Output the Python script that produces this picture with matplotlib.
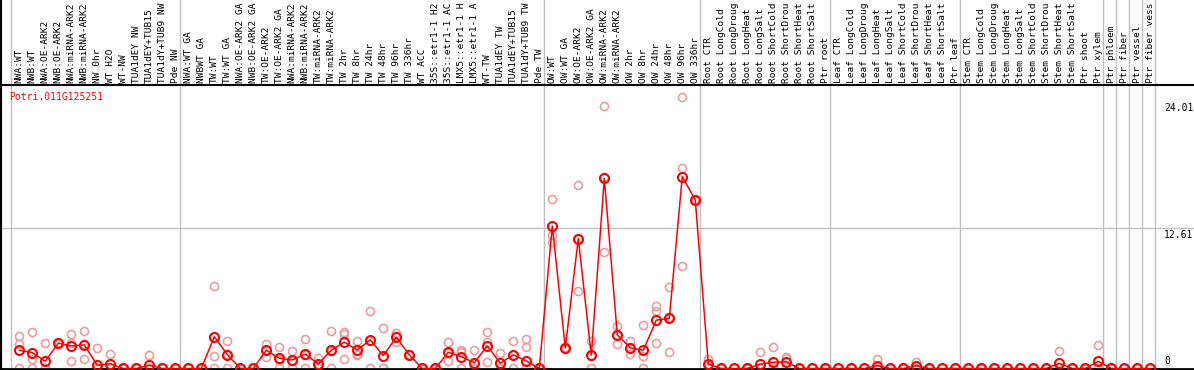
import numpy as np
import matplotlib
matplotlib.use("Agg")
import matplotlib.pyplot as plt
from matplotlib.lines import Line2D
from matplotlib.transforms import blended_transform_factory

# sample labels, grouped as in the browser view (long ones cut as the view shows them)
nw_labels = ["NWA:WT", "NWB:WT", "NWA:OE-ARK2", "NWB:OE-ARK2", "NWA:miRNA-ARK2",
             "NWB:miRNA-ARK2", "NW 0hr", "WT H2O", "WT-NW", "TUA1dEY NW",
             "TUA1dEY+TUB15", "TUA1dY+TUB9 NW", "Pde NW"]
tw_labels = ["NWA:WT GA", "NWBWT GA", "TW:WT", "TW:WT GA", "NWA:OE-ARK2 GA",
             "NWB:OE-ARK2 GA", "TW:OE-ARK2", "TW:OE-ARK2 GA", "NWA:miRNA-ARK2",
             "NWB:miRNA-ARK2", "TW:miRNA-ARK2", "TW:miRNA-ARK2", "TW 2hr", "TW 8hr",
             "TW 24hr", "TW 48hr", "TW 96hr", "TW 336hr", "WT ACC",
             "35S::etr1-1 H2", "35S::etr1-1 AC", "LMX5::etr1-1 H",
             "LMX5::etr1-1 A", "WT-TW", "TUA1dEY TW", "TUA1dEY+TUB15",
             "TUA1dY+TUB9 TW", "Pde TW"]
ow_labels = ["OW:WT", "OW:WT GA", "OW:OE-ARK2", "OW:OE-ARK2 GA", "OW:miRNA-ARK2",
             "OW:miRNA-ARK2", "OW 2hr", "OW 8hr", "OW 24hr", "OW 48hr", "OW 96hr",
             "OW 336hr"]
stress = ["CTR", "LongCold", "LongDroug", "LongHeat", "LongSalt", "ShortCold",
          "ShortDrou", "ShortHeat", "ShortSalt"]
root_labels = ["Root " + s for s in stress] + ["Ptr root"]
leaf_labels = ["Leaf " + s for s in stress] + ["Ptr leaf"]
stem_labels = ["Stem " + s for s in stress] + ["Ptr shoot", "Ptr xylem"]
wood_labels = ["Ptr phloem", "Ptr fiber", "Ptr vessel", "Ptr fiber vess"]

labels = nw_labels + tw_labels + ow_labels + root_labels + leaf_labels + stem_labels + wood_labels
group_starts = [0, 13, 41, 53, 63, 73, 84, 85, 86, 87, 88]

# mean expression per sample
means = ([1.64, 1.42, 0.65, 2.27, 2.03, 2.12, 0.29, 0.43, 0, 0, 0.29, 0, 0]
         + [0, 0, 2.86, 1.25, 0, 0, 1.64, 0.92, 0.77, 1.30, 0.40, 1.64, 2.36, 1.67,
            2.57, 1.15, 2.81, 1.22, 0, 0, 1.46, 1.06, 0.52, 2.03, 0.47, 1.22, 0.68, 0]
         + [12.81, 1.85, 11.67, 1.19, 17.07, 3.02, 1.85, 1.64, 4.34, 4.49, 17.23, 15.12]
         + [0.40, 0, 0, 0, 0.40, 0.56, 0.59, 0, 0, 0]
         + [0, 0, 0, 0.25, 0, 0, 0.25, 0, 0, 0]
         + [0, 0, 0, 0, 0, 0, 0, 0.47, 0, 0, 0.65]
         + [0, 0, 0, 0])

# individual replicates
rep1 = ([2.93, 3.26, 2.27, 2.30, 3.08, 3.35, 1.82, 1.30, 0, 0, 1.20, 0, 0]
        + [0, 0, 7.40, 2.48, 0, 0, 2.20, 1.94, 1.58, 2.66, 0.92, 3.35, 3.26, 2.48,
           5.15, 3.65, 3.17, 1.30, 0, 0, 2.36, 1.67, 1.64, 3.26, 1.37, 2.45, 2.63, 0]
        + [15.24, 1.90, 16.44, 2.48, 23.53, 3.83, 2.48, 3.92, 5.57, 7.34, 24.34, 15.20]
        + [0.89, 0, 0, 0, 1.46, 1.94, 1.06, 0, 0, 0]
        + [0, 0, 0, 0.86, 0, 0, 0.56, 0, 0, 0]
        + [0, 0, 0, 0, 0, 0, 0, 1.60, 0, 0, 2.09]
        + [0, 0, 0, 0])
rep2 = ([2.20, 0.85, 0, 2.20, 0.70, 0.83, 0, 0, 0, 0, 0, 0, 0]
        + [0, 0, 1.13, 1.27, 0, 0, 1.00, 0, 0, 0, 0, 0, 3.08, 1.28,
           0, 0, 2.90, 1.20, 0, 0, 0.65, 0, 0, 0.59, 0, 0, 1.96, 0]
        + [11.96, 1.73, 6.98, 0, 10.47, 2.18, 1.28, 0, 5.18, 1.49, 18.04, 15.10]
        + [0, 0, 0, 0, 0, 0, 0.90, 0, 0, 0]
        + [0, 0, 0, 0, 0, 0, 0.20, 0, 0, 0]
        + [0, 0, 0, 0, 0, 0, 0, 0, 0, 0, 0]
        + [0, 0, 0, 0])
rep3 = ([0, 0, 0, 2.30, 2.30, 2.20, 0, 0, 0, 0, 0, 0, 0]
        + [0, 0, 0, 0, 0, 0, 1.70, 0.80, 0.70, 1.20, 0.30, 1.60, 0.83, 1.25,
           2.50, 0, 2.36, 1.20, 0, 0, 1.40, 1.50, 0, 2.36, 0, 1.20, 0, 0]
        + [11.40, 1.85, 11.60, 1.10, 17.20, 3.05, 1.80, 1.15, 2.30, 4.60, 9.20, 15.10]
        + [0.30, 0, 0, 0, 0, 0, 0, 0, 0, 0]
        + [0, 0, 0, 0, 0, 0, 0, 0, 0, 0]
        + [0, 0, 0, 0, 0, 0, 0, 0, 0, 0, 0]
        + [0, 0, 0, 0])

gene = "Potri.011G125251"
ytick_vals = [24.01, 12.61, 0]

W, H = 1194, 370
mono = "DejaVu Sans Mono"

fig = plt.figure(figsize=(W / 100, H / 100), dpi=100)
ax = fig.add_axes([1 / W, 1 / H, (W - 1) / W, 284 / H])

x = np.arange(len(labels))
ax.set_xlim((1 - 19.3) / 13, (W - 19.3) / 13)
ax.set_ylim(-0.045, 25.45)
ax.set_xticks([])
ax.set_yticks([])
ax.spines["right"].set_visible(False)
ax.spines["left"].set_linewidth(1.5)
ax.spines["top"].set_linewidth(1.5)
ax.spines["bottom"].set_linewidth(2)

# group separators run up through the label strip
for g in group_starts:
    ax.axvline(g - 0.62, ymin=0, ymax=1 + 85 / 284, clip_on=False,
               color="#c0c0c0", lw=1, zorder=0)
ax.axhline(ytick_vals[1], color="#c0c0c0", lw=1, zorder=0)
fig.add_artist(Line2D([1 / W, 1 / W], [0, 1], color="black", lw=1.5))

for r in (rep1, rep2, rep3):
    ax.plot(x, r, "o", ls="none", mfc="none", mec="#ec9c9c", ms=5.8, mew=1.2,
            clip_on=False, zorder=2)
ax.plot(x, means, "-o", color="red", mfc="none", ms=6.5, mew=1.5, lw=1.1,
        clip_on=False, zorder=3)

trans = blended_transform_factory(ax.transData, ax.transAxes)
for i, lab in enumerate(labels):
    ax.text(i, 1 + 2 / 284, lab, rotation=90, ha="center", va="bottom",
            transform=trans, clip_on=False, fontsize=6.8, family=mono)

ax.text((9 - 19.3) / 13, 24.37, gene, color="red", ha="left", va="center",
        fontsize=7, family=mono)

tx = (1164 - 19.3) / 13
ax.text(tx, ytick_vals[0] - 0.15, "24.01", ha="left", va="top", fontsize=7, family=mono)
ax.text(tx, ytick_vals[1] - 0.15, "12.61", ha="left", va="top", fontsize=7, family=mono)
ax.text(tx, ytick_vals[2] + 0.25, "0", ha="left", va="bottom", fontsize=7, family=mono)

fig.savefig("out.png", dpi=100)
